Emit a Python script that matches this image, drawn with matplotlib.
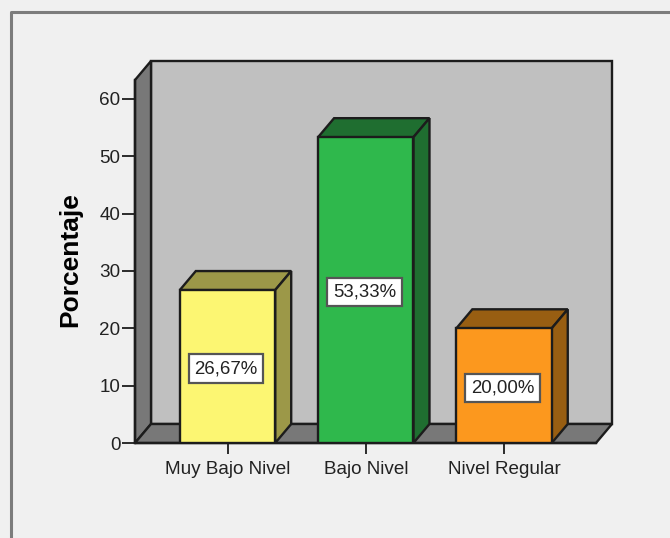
import matplotlib
matplotlib.use('Agg')
import matplotlib.pyplot as plt
from matplotlib.lines import Line2D
from matplotlib.patches import Polygon, Rectangle

plt.rcParams['font.family'] = ['Liberation Sans', 'DejaVu Sans']

categorias = ['Muy Bajo Nivel', 'Bajo Nivel', 'Nivel Regular']
porcentajes = [26.67, 53.33, 20.00]
etiquetas = ['26,67%', '53,33%', '20,00%']
yticks = [0, 10, 20, 30, 40, 50, 60]

colores = ['#fcf672', '#2fb84c', '#fc981e']
colores_oscuros = ['#9c9848', '#1f6e30', '#985e12']

W, H = 670, 538
fig = plt.figure(figsize=(W / 100, H / 100), dpi=100, facecolor='#f0f0f0')

# posicion del eje en pixeles
x0, x1, y_base, y_tope = 135, 596, 443, 80
ax = fig.add_axes([x0 / W, 1 - y_base / H, (x1 - x0) / W, (y_base - y_tope) / H])
ax.set_xlim(-0.669, 2.665)
ax.set_ylim(0, 63.3)
ax.patch.set_visible(False)

# profundidad 3D en unidades de datos
dx = 16 / 138.25
dy = 19 / 5.733
ancho = 0.69
xmin, xmax = ax.get_xlim()
ymax = ax.get_ylim()[1]
borde = '#1c1c1c'
lw = 1.7

# pared del fondo, pared lateral y piso
ax.add_patch(Rectangle((xmin + dx, dy), xmax - xmin, ymax, fc='#c0c0c0', ec=borde, lw=lw,
                       clip_on=False, zorder=1))
ax.add_patch(Polygon([(xmin, 0), (xmin + dx, dy), (xmin + dx, ymax + dy), (xmin, ymax)],
                     fc='#787878', ec=borde, lw=lw, clip_on=False, zorder=2))
ax.add_patch(Polygon([(xmin, 0), (xmax, 0), (xmax + dx, dy), (xmin + dx, dy)],
                     fc='#787878', ec=borde, lw=lw, clip_on=False, zorder=2))

# barras
for i, v in enumerate(porcentajes):
    a = i - ancho / 2
    b = i + ancho / 2
    ax.add_patch(Polygon([(a, v), (b, v), (b + dx, v + dy), (a + dx, v + dy)],
                         fc=colores_oscuros[i], ec=borde, lw=lw, zorder=3))
    ax.add_patch(Polygon([(b, 0), (b + dx, dy), (b + dx, v + dy), (b, v)],
                         fc=colores_oscuros[i], ec=borde, lw=lw, zorder=3))
    ax.bar(i, v, ancho, color=colores[i], edgecolor=borde, linewidth=lw, zorder=4)
    ax.text(i - 0.01, v / 2, etiquetas[i], ha='center', va='center_baseline', fontsize=13.4, color='#222222', zorder=5,
            bbox=dict(boxstyle='square,pad=0.3', fc='white', ec='#555555', lw=1.6))

ax.set_xticks(range(3))
ax.set_xticklabels(categorias, fontsize=13.6, color='#222222')
ax.set_yticks(yticks)
ax.tick_params(axis='y', labelsize=13.6, labelcolor='#222222', length=9.5, width=1.3, color=borde, pad=1)
ax.tick_params(axis='x', length=8, width=1.3, color=borde, pad=5)
ax.set_ylabel('Porcentaje', fontsize=19, fontweight='bold', color='black')
ax.yaxis.set_label_coords((82 - x0) / (x1 - x0), (y_base - 260) / (y_base - y_tope))

for lado in ['top', 'right']:
    ax.spines[lado].set_visible(False)
ax.spines['left'].set_linewidth(lw)
ax.spines['left'].set_color(borde)
ax.spines['left'].set_zorder(3)
ax.spines['bottom'].set_linewidth(lw)
ax.spines['bottom'].set_color(borde)
ax.spines['bottom'].set_zorder(3)

# marco gris arriba y a la izquierda
fig.add_artist(Line2D([11 / W, 11 / W, 1], [0, 1 - 12 / H, 1 - 12 / H], color='#7c7c7c', lw=2.2))

fig.savefig('out.png', dpi=100, facecolor=fig.get_facecolor())
